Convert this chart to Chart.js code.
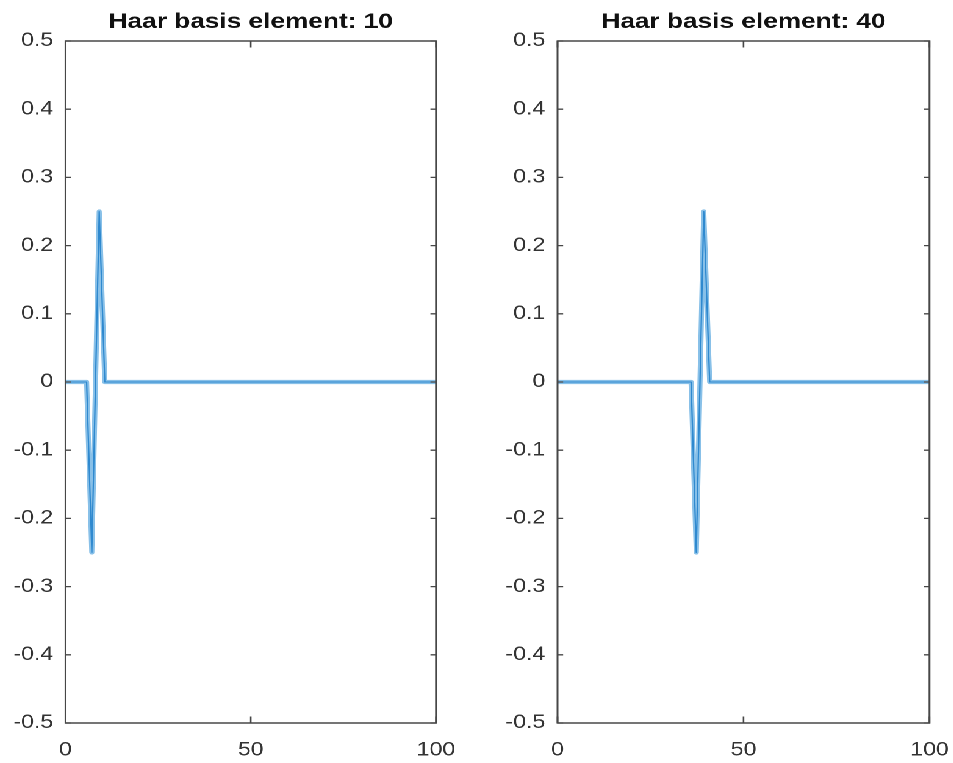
<!DOCTYPE html>
<html>
<head>
<meta charset="utf-8">
<script src="https://cdn.jsdelivr.net/npm/chart.js@4"></script>
<style>
  html, body { margin: 0; padding: 0; background: #fff; }
  #wrap { position: absolute; left: 0; top: 0; width: 780px; height: 763px;
          transform: scaleX(1.22); transform-origin: 0 0; }
  #wrap canvas { position: absolute; top: 0; }
</style>
</head>
<body>
<div id="wrap">
  <canvas id="c1" width="390" height="763" style="left:0px;width:390px;height:763px"></canvas>
  <canvas id="c2" width="390" height="763" style="left:390px;width:390px;height:763px"></canvas>
</div>
<script>
// ---- data ----
const titles = ['Haar basis element: 10', 'Haar basis element: 40'];
const xLeft  = [0, 5.7, 7.1, 9.1, 10.6, 100];
const yLeft  = [0, 0, -0.25, 0.25, 0, 0];
const xRight = [0, 35.9, 37.3, 39.3, 40.9, 100];
const yRight = [0, 0, -0.25, 0.25, 0, 0];
const xTicks = [0, 50, 100];
const yTicks = [-0.5, -0.4, -0.3, -0.2, -0.1, 0, 0.1, 0.2, 0.3, 0.4, 0.5];

const FONT = '"Liberation Sans", Arial, Helvetica, sans-serif';
const AXIS_COLOR = '#474747';
const TEXT_COLOR = '#333333';

const boxPlugin = {
  id: 'matlabBox',
  afterDatasetsDraw(chart) {
    const {ctx, chartArea: a, scales: {x, y}} = chart;
    ctx.save();
    ctx.strokeStyle = AXIS_COLOR;
    ctx.lineWidth = 1.5;
    ctx.beginPath();
    ctx.rect(a.left, a.top, a.right - a.left, a.bottom - a.top);
    ctx.stroke();
    ctx.lineWidth = 1.3;
    ctx.beginPath();
    const tx = 5.6 / 1.22, ty = 6.5;
    yTicks.forEach(v => {
      const py = y.getPixelForValue(v);
      ctx.moveTo(a.left, py); ctx.lineTo(a.left + tx, py);
      ctx.moveTo(a.right, py); ctx.lineTo(a.right - tx, py);
    });
    xTicks.forEach(v => {
      const px = x.getPixelForValue(v);
      ctx.moveTo(px, a.bottom); ctx.lineTo(px, a.bottom - ty);
      ctx.moveTo(px, a.top); ctx.lineTo(px, a.top + ty);
    });
    ctx.stroke();
    ctx.restore();
  }
};

function makeChart(id, title, xs, ys, yAxisWidth, padRight) {
  const pts = xs.map((x, i) => ({x: x, y: ys[i]}));
  return new Chart(document.getElementById(id), {
    type: 'line',
    data: {
      datasets: [
        { data: pts, borderColor: '#2f89cf', borderWidth: 1.1, pointRadius: 0,
          tension: 0, borderCapStyle: 'round', borderJoinStyle: 'round', order: 0 },
        { data: pts, borderColor: '#88c0e8', borderWidth: 4.2, pointRadius: 0,
          tension: 0, borderCapStyle: 'round', borderJoinStyle: 'round', order: 1 }
      ]
    },
    options: {
      responsive: false,
      animation: false,
      devicePixelRatio: 2,
      layout: { padding: { left: 0, right: padRight, top: 0, bottom: 0 } },
      plugins: {
        legend: { display: false },
        tooltip: { enabled: false },
        title: {
          display: true, text: title, fullSize: false, color: '#111',
          font: { family: FONT, size: 21.5, weight: 'bold' },
          padding: { top: 9, bottom: 6.2 }
        }
      },
      scales: {
        x: {
          type: 'linear', min: 0, max: 100,
          afterBuildTicks: s => { s.ticks = xTicks.map(v => ({value: v})); },
          afterFit: s => { s.height = 40; s.paddingLeft = 0; s.paddingRight = 0; },
          grid: { display: false, drawTicks: false },
          border: { display: false },
          ticks: { color: TEXT_COLOR, padding: 16, maxRotation: 0,
                   font: { family: FONT, size: 19 },
                   callback: v => String(v) }
        },
        y: {
          type: 'linear', min: -0.5, max: 0.5,
          afterBuildTicks: s => { s.ticks = yTicks.map(v => ({value: v})); },
          afterFit: s => { s.width = yAxisWidth; s.paddingTop = 0; s.paddingBottom = 0; },
          grid: { display: false, drawTicks: false },
          border: { display: false },
          ticks: { color: TEXT_COLOR, padding: 10,
                   font: { family: FONT, size: 19 },
                   callback: v => String(Math.round(v * 10) / 10) }
        }
      }
    },
    plugins: [boxPlugin]
  });
}

makeChart('c1', titles[0], xLeft, yLeft, 53.7, 32.6);
makeChart('c2', titles[1], xRight, yRight, 67.0, 18.1);
</script>
</body>
</html>
